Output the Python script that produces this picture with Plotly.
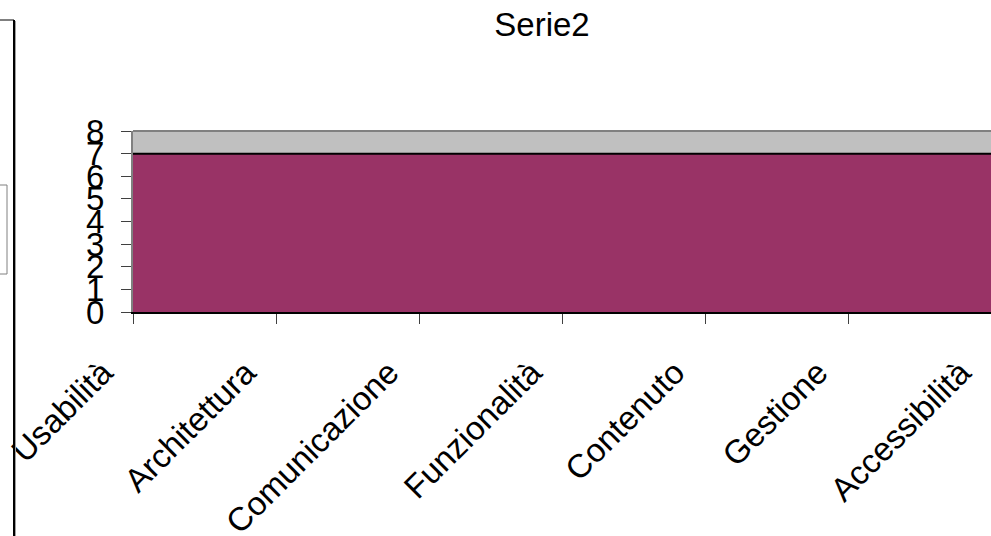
import plotly.graph_objects as go

# ---- data ----
categories = ["Usabilità", "Architettura", "Comunicazione", "Funzionalità",
              "Contenuto", "Gestione", "Accessibilità"]
serie2 = [7, 7, 7, 7, 7, 7, 7]
y_ticks = [0, 1, 2, 3, 4, 5, 6, 7, 8]
title_text = "Serie2"

# ---- layout constants ----
W, H = 991, 536
ML, MR, MT, MB = 133, 0, 131, 224
FONT = "Liberation Sans, Arial, sans-serif"
PURPLE = "#993366"
GRAY_BG = "#C0C0C0"


def px_x(p):
    return (p - ML) / (W - ML - MR)


def px_y(p):
    return (H - MB - p) / (H - MT - MB)


x_idx = list(range(len(categories)))

fig = go.Figure()
fig.add_trace(go.Scatter(
    x=x_idx, y=serie2, mode="lines", fill="tozeroy",
    fillcolor=PURPLE, line=dict(color="black", width=2),
    hoverinfo="skip", showlegend=False,
))

fig.update_layout(
    width=W, height=H,
    margin=dict(l=ML, r=MR, t=MT, b=MB, autoexpand=False),
    paper_bgcolor="white", plot_bgcolor=GRAY_BG,
    showlegend=False,
    title=dict(text=title_text, font=dict(family=FONT, size=33, color="black"),
               xref="container", x=542 / W, xanchor="center",
               yref="container", y=1 - 13 / H, yanchor="top"),
    font=dict(family=FONT, color="black"),
)

fig.update_xaxes(
    range=[0, len(categories) - 1], tickmode="array", tickvals=x_idx,
    ticktext=categories, tickangle=-45, tickfont=dict(family=FONT, size=33, color="black"),
    ticks="outside", ticklen=10, tickwidth=1, tickcolor="#404040",
    showline=True, linecolor="black", linewidth=2, showgrid=False, zeroline=False,
    ticklabelshift=-30, ticklabelstandoff=16, automargin=False,
)
fig.update_yaxes(
    range=[0, 8], tickmode="array", tickvals=y_ticks,
    tickfont=dict(family=FONT, size=33, color="black"),
    ticks="outside", ticklen=10, tickwidth=1, tickcolor="#404040",
    showline=True, linecolor="#808080", linewidth=2, showgrid=False, zeroline=False,
    ticklabelstandoff=10, automargin=False,
)

# top border of plot area
fig.add_shape(type="line", xref="x domain", yref="y domain", x0=0, x1=1, y0=1, y1=1,
              line=dict(color="#808080", width=2))

# neighbouring chart frame on the left edge
fig.add_shape(type="line", xref="paper", yref="paper", x0=px_x(-2), x1=px_x(14),
              y0=px_y(20), y1=px_y(20), line=dict(color="black", width=1))
fig.add_shape(type="line", xref="paper", yref="paper", x0=px_x(14), x1=px_x(14),
              y0=px_y(20), y1=px_y(540), line=dict(color="black", width=2))
fig.add_shape(type="line", xref="paper", yref="paper", x0=px_x(15.5), x1=px_x(15.5),
              y0=px_y(21), y1=px_y(540), line=dict(color="#A0A0A0", width=1))
# cut-off legend box
fig.add_shape(type="rect", xref="paper", yref="paper", x0=px_x(-3), x1=px_x(7),
              y0=px_y(274), y1=px_y(185), line=dict(color="#808080", width=1))

fig.write_html("out.html", config={"displayModeBar": False},
               post_script="document.body.style.margin='0';document.body.style.overflow='hidden';")
